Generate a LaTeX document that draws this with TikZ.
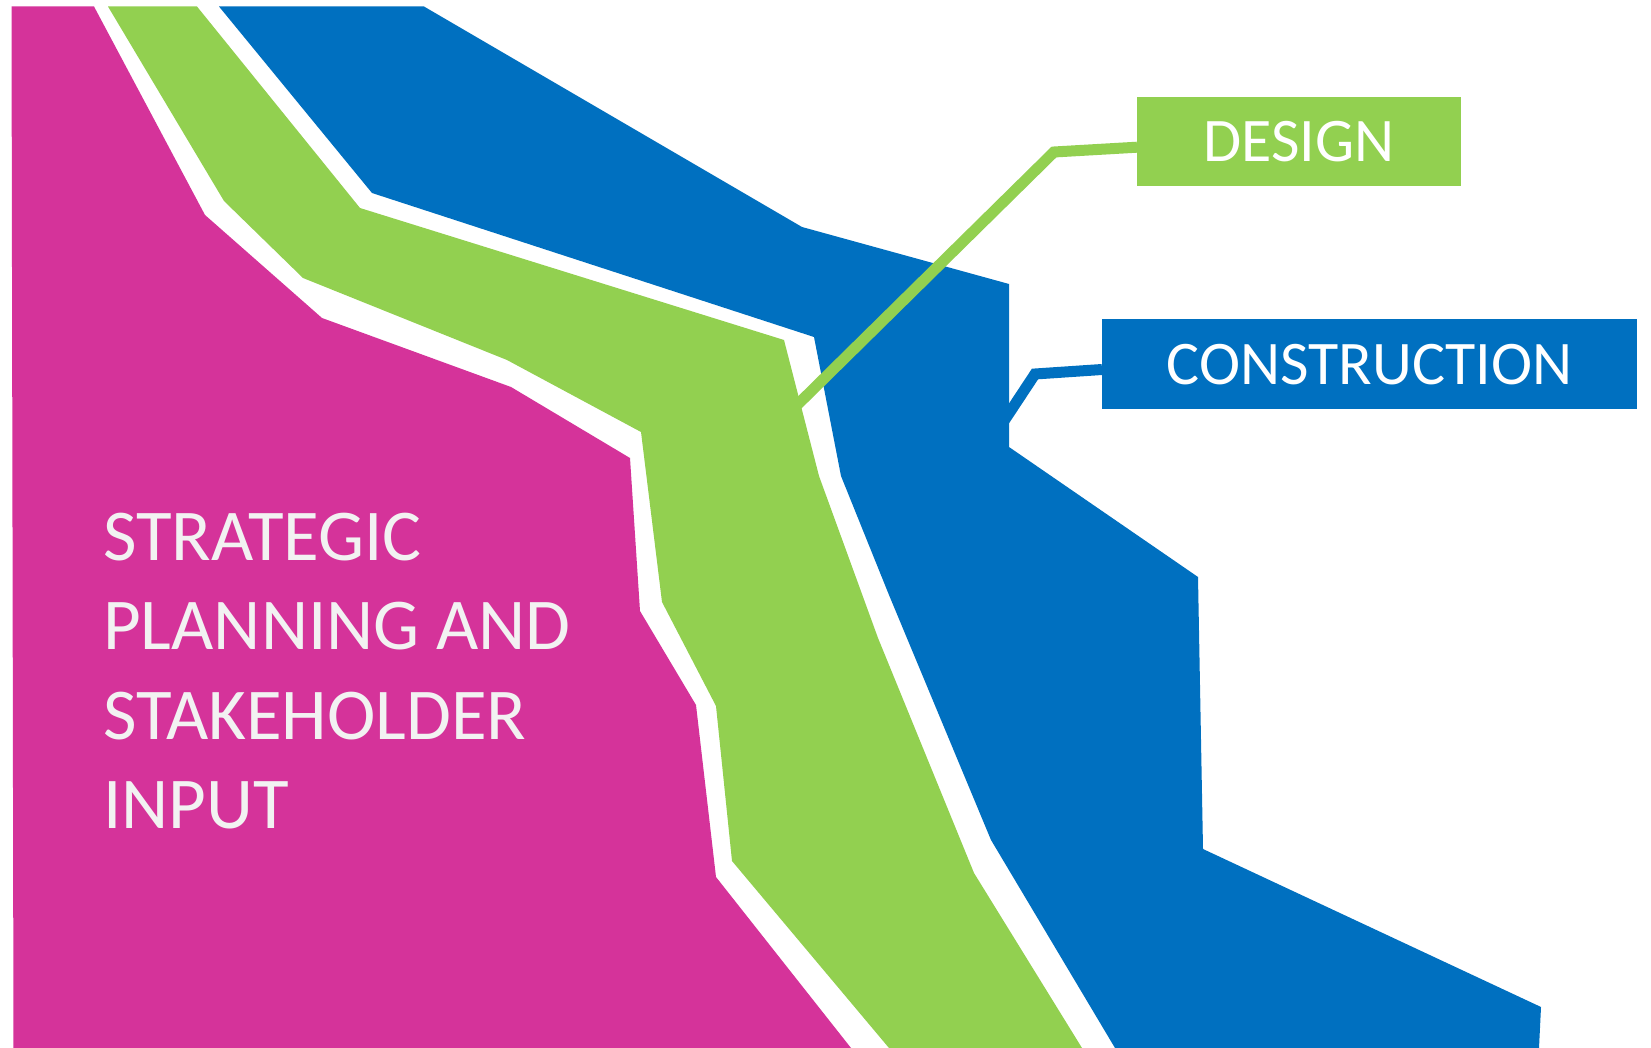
\documentclass[tikz,border=0pt]{standalone}
\usepackage{fontspec}
\setmainfont{Carlito}
\definecolor{magentaC}{HTML}{D5339A}
\definecolor{greenC}{HTML}{92D050}
\definecolor{blueC}{HTML}{0070C0}
\definecolor{offwhite}{HTML}{F2F2F2}
\begin{document}
\begin{tikzpicture}[x=1pt,y=-1pt,
  bigtext/.style={font=\fontsize{73}{89.5}\selectfont, text=offwhite, anchor=base west, inner sep=0pt},
  labelbox/.style={inner sep=0pt, anchor=north west, text=white, font=\fontsize{62}{75}\selectfont},
  link/.style={line width=11pt, line cap=butt, line join=miter}]
\useasboundingbox[fill=white] (0,0) rectangle (1651,1048);

% magenta band
\fill[magentaC] (11.5,6.5) -- (94,6.5) -- (205,215) -- (322,318) -- (511,387) -- (630,458)
  -- (640,611) -- (696,705) -- (716,877) -- (851,1048) -- (13.5,1048) -- cycle;
% green band
\fill[greenC] (108,6.5) -- (197,6.5) -- (360,208) -- (784,340) -- (819,476) -- (878,638)
  -- (974,873) -- (1082,1048) -- (889,1048) -- (732,861) -- (716,706) -- (662,602)
  -- (641,432) -- (507,360) -- (303,278) -- (224,201) -- cycle;
% blue band
\fill[blueC] (219,6.5) -- (424,6.5) -- (802,227) -- (1009,284) -- (1009,447) -- (1198,577)
  -- (1203,849) -- (1541,1007) -- (1539,1048) -- (1115,1048) -- (991,840) -- (889,595)
  -- (841,476) -- (814,337) -- (372,193) -- cycle;

% label boxes
\node[labelbox, fill=greenC, minimum width=324pt, minimum height=89pt] (design) at (1137,97) {DESIGN};
\node[labelbox, fill=blueC, minimum width=535pt, minimum height=90pt] (construction) at (1102,319) {CONSTRUCTION};

% connectors
\coordinate (gs) at (790,412);
\coordinate (gb) at (1054,152);
\coordinate (bs) at (1000,427);
\coordinate (bb) at (1035,374);
\draw[link, greenC] (gs) -- (gb) -- ([yshift=-5.5pt]design.west);
\draw[link, blueC] (bs) -- (bb) -- ([yshift=-5.3pt]construction.west);

% main text
\node[bigtext] (s1) at (103,560) {STRATEGIC};
\node[bigtext] (s2) at (103,649.5) {PLANNING AND};
\node[bigtext] (s3) at (103,739) {STAKEHOLDER};
\node[bigtext] (s4) at (103,828.5) {INPUT};
\end{tikzpicture}
\end{document}
